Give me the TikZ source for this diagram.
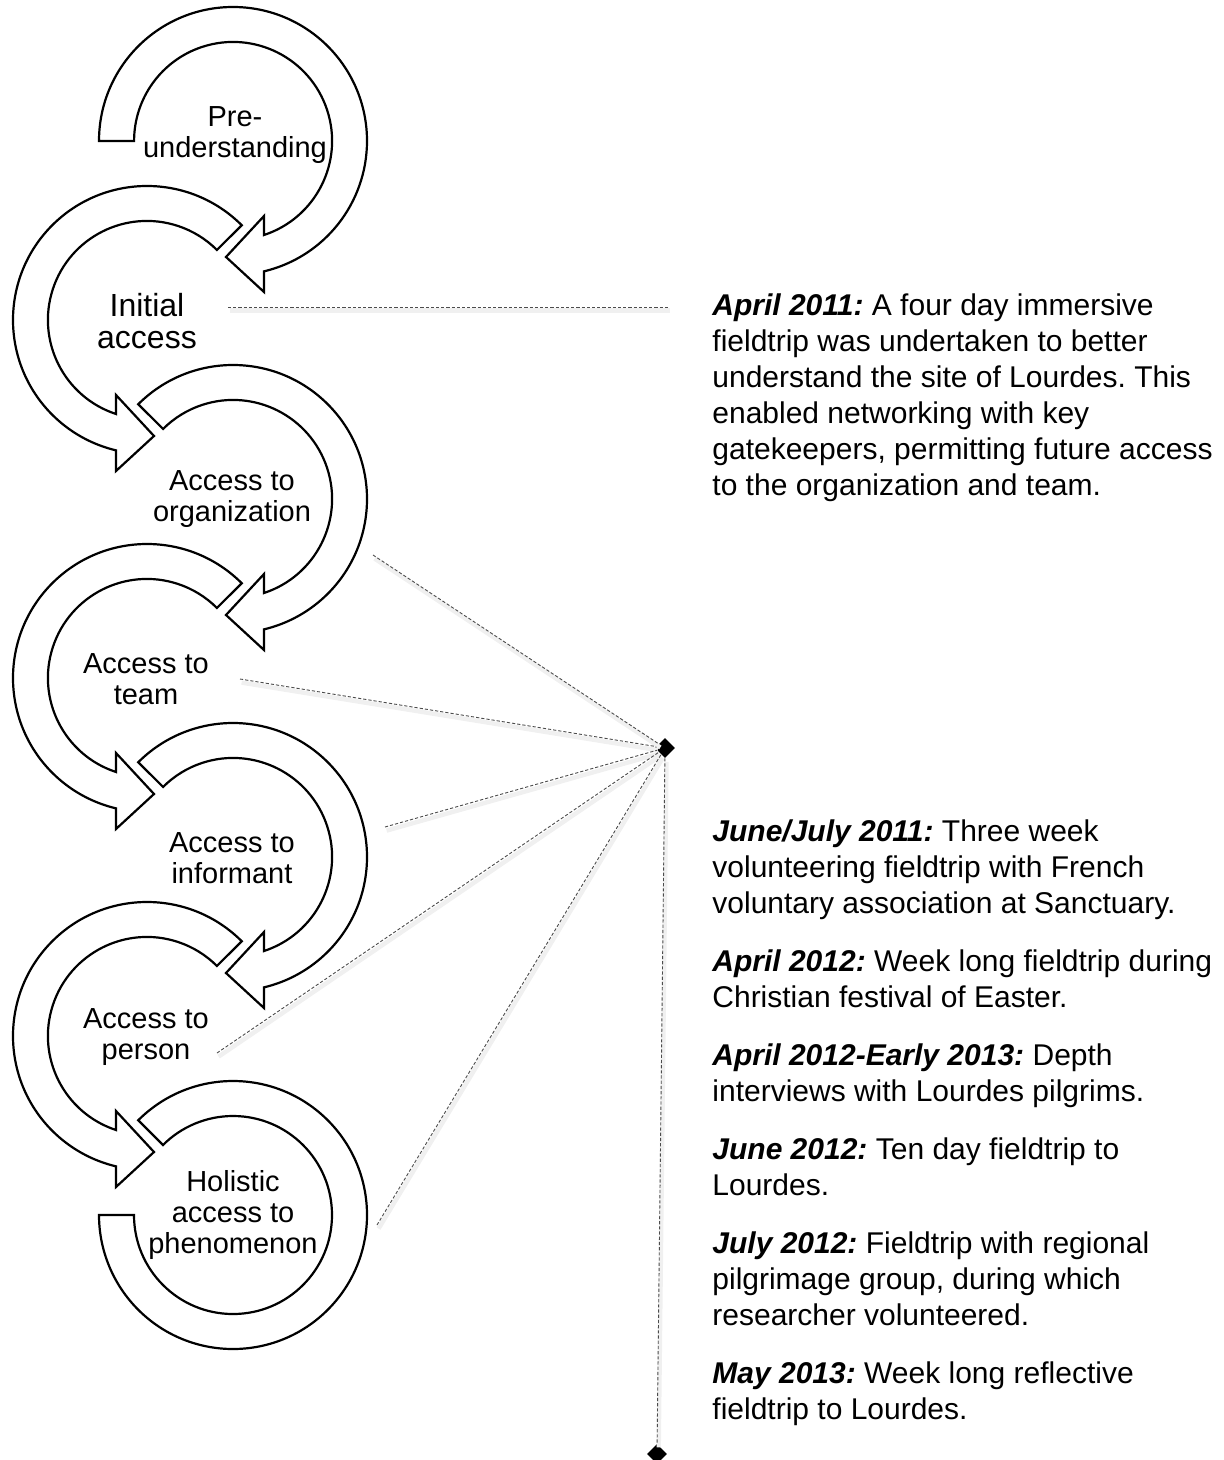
\documentclass[tikz,border=0pt]{standalone}
\usepackage{fontspec}
\setmainfont{Liberation Sans}
\usetikzlibrary{shapes.geometric}

% ring with head pointing left, #1 = centre y, #2 = angle of the tail
\newcommand{\rightloop}[2]{%
  \draw[ringarrow] ([shift={(#2:134)}]233,#1) arc[start angle=#2, end angle=-76.6, radius=134]
    -- (264,{#1-151}) -- (226,{#1-116}) -- (264,{#1-75}) -- (264,{#1-94})
    arc[start angle=-71.8, end angle=#2, radius=99] -- cycle;}
% ring with head pointing right
\newcommand{\leftloop}[1]{%
  \draw[ringarrow] ([shift={(45:134)}]147,#1) arc[start angle=45, end angle=256.6, radius=134]
    -- (116,{#1-151}) -- (154,{#1-116}) -- (116,{#1-75}) -- (116,{#1-94})
    arc[start angle=251.8, end angle=45, radius=99] -- cycle;}
\newcommand{\when}[1]{{\bfseries\itshape #1}}

\begin{document}
\frenchspacing
\begin{tikzpicture}[x=0.5pt,y=0.5pt,
  ringarrow/.style={draw=black,fill=white,line width=1.1pt,line join=miter},
  stage/.style={align=center,inner sep=0pt,font=\fontsize{14.5}{15.5}\selectfont},
  note/.style={align=left,inner sep=0pt,anchor=north west,font=\fontsize{15}{18}\selectfont},
  link/.style={draw=black!70,line width=0.45pt,dash pattern=on 1.6pt off 1pt,
    preaction={draw=black!6,line width=2.2pt,solid,transform canvas={shift={(0.8pt,-1.8pt)}}}},
  hubmark/.style={diamond,fill=black,inner sep=0pt,minimum size=10pt}]
\useasboundingbox (0,0) rectangle (1224,-1460);

\rightloop{-141}{180}
\leftloop{-320}
\rightloop{-499}{135}
\leftloop{-678}
\rightloop{-857}{135}
\leftloop{-1036}
% last ring, no head
\draw[ringarrow] ([shift={(135:134)}]233,-1215) arc[start angle=135, end angle=-180, radius=134]
  -- ++(35,0) arc[start angle=-180, end angle=135, radius=99] -- cycle;

\node[stage] (pre) at (235,-135) {Pre-\\understanding};
\node[stage,font=\fontsize{16}{16}\selectfont] (initial) at (147,-321) {Initial\\access};
\node[stage] (org) at (232,-499) {Access to\\organization};
\node[stage] (team) at (146,-679) {Access to\\team};
\node[stage] (inform) at (232,-858) {Access to\\informant};
\node[stage] (person) at (146,-1037) {Access to\\person};
\node[stage] (holistic) at (233,-1215) {Holistic\\access to\\phenomenon};

\node[note] (aprnote) at (712,-293) {\when{April 2011:} A four day immersive\\
  fieldtrip was undertaken to better\\
  understand the site of Lourdes. This\\
  enabled networking with key\\
  gatekeepers, permitting future access\\
  to the organization and team.};
\node[note] (tripnotes) at (712,-819) {\when{June/July 2011:} Three week\\
  volunteering fieldtrip with French\\
  voluntary association at Sanctuary.\\[11pt]
  \when{April 2012:} Week long fieldtrip during\\
  Christian festival of Easter.\\[11pt]
  \when{April 2012-Early 2013:} Depth\\
  interviews with Lourdes pilgrims.\\[11pt]
  \when{June 2012:} Ten day fieldtrip to\\
  Lourdes.\\[11pt]
  \when{July 2012:} Fieldtrip with regional\\
  pilgrimage group, during which\\
  researcher volunteered.\\[11pt]
  \when{May 2013:} Week long reflective\\
  fieldtrip to Lourdes.};

\node[hubmark] (hub) at (665,-748) {};
\node[hubmark] (end) at (657,-1454) {};

\coordinate (initfrom) at (228,-307);
\coordinate (initto) at (668,-307);
\coordinate (orgfrom) at (373,-555);
\coordinate (teamfrom) at (240,-679);
\coordinate (informfrom) at (385,-827);
\coordinate (personfrom) at (217,-1053);
\coordinate (holfrom) at (377,-1225);

\draw[link] (initfrom) -- (initto);
\draw[link] (orgfrom) -- (hub);
\draw[link] (teamfrom) -- (hub);
\draw[link] (informfrom) -- (hub);
\draw[link] (personfrom) -- (hub);
\draw[link] (holfrom) -- (hub);
\draw[link] (hub) -- (end);
\end{tikzpicture}
\end{document}
